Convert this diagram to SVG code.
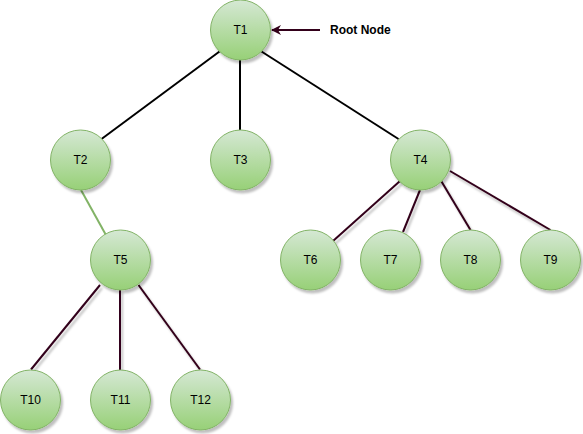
<svg xmlns="http://www.w3.org/2000/svg" width="583" height="434" viewBox="0 0 583 434">
  <defs>
    <linearGradient id="nodeFill" x1="0" y1="0" x2="0" y2="1">
      <stop offset="0" stop-color="#d5e8d4"/>
      <stop offset="1" stop-color="#97d077"/>
    </linearGradient>
    <filter id="shadow" x="-20%" y="-20%" width="150%" height="150%">
      <feDropShadow dx="2" dy="3" stdDeviation="1" flood-color="#000" flood-opacity="0.25"/>
    </filter>
    <!-- user-space region so straight vertical lines keep their shadow -->
    <filter id="edgeShadow" filterUnits="userSpaceOnUse" x="0" y="0" width="583" height="434">
      <feDropShadow dx="2" dy="3" stdDeviation="1" flood-color="#000" flood-opacity="0.25"/>
    </filter>
    <marker id="arrowHead" viewBox="0 0 10 10" refX="9" refY="5" markerWidth="10" markerHeight="10" orient="auto" markerUnits="userSpaceOnUse">
      <path d="M0,0 L10,5 L0,10 L3,5 Z" fill="#33001A"/>
    </marker>
  </defs>
  <style>
    .node circle { fill: url(#nodeFill); stroke: #82b366; stroke-width: 1; filter: url(#shadow); }
    .node text { font-family: "Liberation Sans", Arial, sans-serif; font-size: 12px; fill: #000; text-anchor: middle; dominant-baseline: central; }
    .edge-black { stroke: #000; stroke-width: 2; fill: none; }
    .edge-green { stroke: #82b366; stroke-width: 2; fill: none; }
    .edge-dark { stroke: #33001A; stroke-width: 2; fill: none; filter: url(#edgeShadow); }
    .label { font-family: "Liberation Sans", Arial, sans-serif; font-size: 12px; font-weight: bold; fill: #000; dominant-baseline: central; }
  </style>

  <!-- connectors -->
  <g id="connectors">
    <line class="edge-black" x1="219.5" y1="51.5" x2="101.5" y2="139"/>
    <line class="edge-black" x1="240" y1="60" x2="240" y2="130"/>
    <line class="edge-black" x1="261.5" y1="51.5" x2="398.5" y2="139"/>
    <line class="edge-green" x1="81" y1="190" x2="106.5" y2="236"/>
    <line class="edge-dark" x1="400" y1="181" x2="333" y2="241"/>
    <line class="edge-dark" x1="420" y1="190" x2="403" y2="232"/>
    <line class="edge-dark" x1="441.5" y1="181.5" x2="470.5" y2="230"/>
    <line class="edge-dark" x1="450" y1="171" x2="550.5" y2="230"/>
    <line class="edge-dark" x1="100" y1="285" x2="31" y2="369.5"/>
    <line class="edge-dark" x1="120" y1="290" x2="120" y2="370"/>
    <line class="edge-dark" x1="138.5" y1="285" x2="200" y2="369.5"/>
    <line x1="320" y1="30" x2="272" y2="30" stroke="#33001A" stroke-width="2" marker-end="url(#arrowHead)"/>
  </g>

  <!-- nodes -->
  <g id="T1" class="node"><circle cx="240.5" cy="30" r="30"/><text x="240.5" y="30">T1</text></g>
  <g id="T2" class="node"><circle cx="80.5" cy="160" r="30"/><text x="80.5" y="160">T2</text></g>
  <g id="T3" class="node"><circle cx="240.5" cy="160" r="30"/><text x="240.5" y="160">T3</text></g>
  <g id="T4" class="node"><circle cx="420.5" cy="160" r="30"/><text x="420.5" y="160">T4</text></g>
  <g id="T5" class="node"><circle cx="120.5" cy="260" r="30"/><text x="120.5" y="260">T5</text></g>
  <g id="T6" class="node"><circle cx="310.5" cy="260" r="30"/><text x="310.5" y="260">T6</text></g>
  <g id="T7" class="node"><circle cx="390.5" cy="260" r="30"/><text x="390.5" y="260">T7</text></g>
  <g id="T8" class="node"><circle cx="470.5" cy="260" r="30"/><text x="470.5" y="260">T8</text></g>
  <g id="T9" class="node"><circle cx="550.5" cy="260" r="30"/><text x="550.5" y="260">T9</text></g>
  <g id="T10" class="node"><circle cx="30.5" cy="400" r="30"/><text x="30.5" y="400">T10</text></g>
  <g id="T11" class="node"><circle cx="120.5" cy="400" r="30"/><text x="120.5" y="400">T11</text></g>
  <g id="T12" class="node"><circle cx="200.5" cy="400" r="30"/><text x="200.5" y="400">T12</text></g>

  <text class="label" x="330" y="30">Root Node</text>
</svg>
